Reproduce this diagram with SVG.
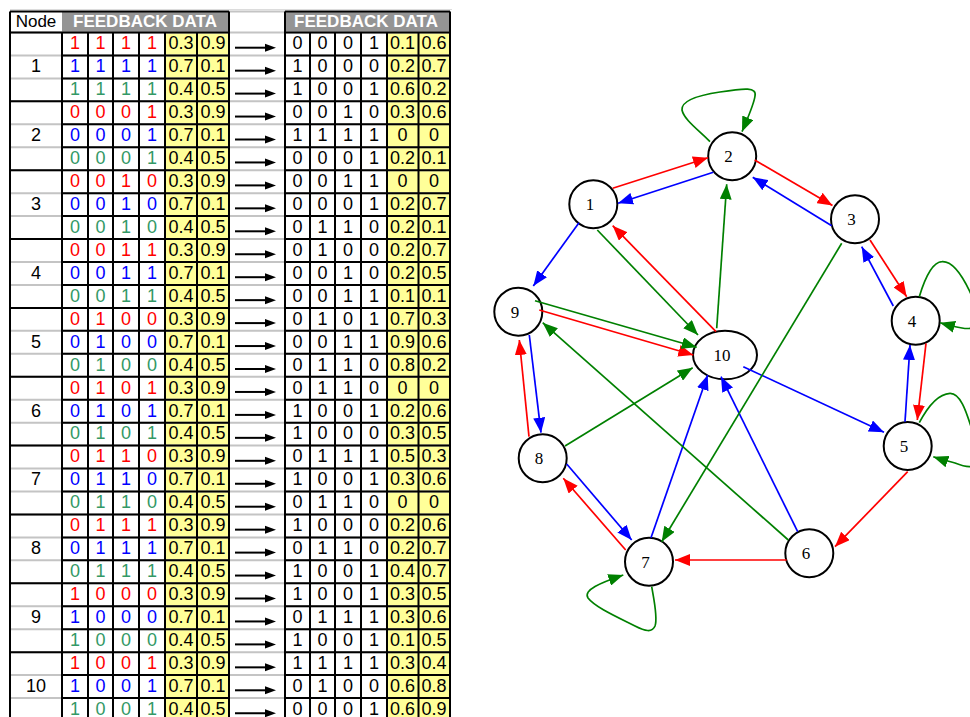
<svg xmlns="http://www.w3.org/2000/svg" xmlns:xlink="http://www.w3.org/1999/xlink" width="970" height="717" viewBox="0 0 970 717">
<style>
  text { font-family: "Liberation Sans", Arial, sans-serif; font-size: 18px; text-anchor: middle; fill: #000; }
  .r { fill: #ff0000; }
  .b { fill: #0000ff; }
  .g { fill: #339966; }
  .hd { font-size: 17px; font-weight: bold; fill: #ffffff; }
  .hn { font-size: 17px; }
  .grid-k { fill: none; stroke: #000; stroke-width: 2; }
  .grid-l { fill: none; stroke: #c4c4c4; stroke-width: 2; }
  .nd { fill: #ffffff; stroke: #000; stroke-width: 2; }
  .nl { font-family: "Liberation Serif", "Times New Roman", serif; font-size: 17px; }
  .e { fill: none; stroke-width: 1.7; }
  .er { stroke: #ff0000; marker-end: url(#ah-r); }
  .eb { stroke: #0000ff; marker-end: url(#ah-b); }
  .eg { stroke: #008000; marker-end: url(#ah-g); }
</style>
<defs>
  <marker id="ah-r" viewBox="0 0 15 12" refX="15" refY="6" markerWidth="15" markerHeight="12" markerUnits="userSpaceOnUse" orient="auto"><path d="M0,0 L15,6 L0,12 z" fill="#ff0000"/></marker>
  <marker id="ah-b" viewBox="0 0 15 12" refX="15" refY="6" markerWidth="15" markerHeight="12" markerUnits="userSpaceOnUse" orient="auto"><path d="M0,0 L15,6 L0,12 z" fill="#0000ff"/></marker>
  <marker id="ah-g" viewBox="0 0 15 12" refX="15" refY="6" markerWidth="15" markerHeight="12" markerUnits="userSpaceOnUse" orient="auto"><path d="M0,0 L15,6 L0,12 z" fill="#008000"/></marker>
  <!-- small arrow of the middle column -->
  <g id="ta"><path d="M235,0 H267" stroke="#000" stroke-width="2"/><path d="M265,-4 L276,0 L265,4 z" fill="#000"/></g>
  <!-- weights and arrows shared by every three-row block -->
  <g id="lv">
    <text x="181" y="16.8">0.3</text><text x="213" y="16.8">0.9</text>
    <text x="181" y="39.75">0.7</text><text x="213" y="39.75">0.1</text>
    <text x="181" y="62.7">0.4</text><text x="213" y="62.7">0.5</text>
    <use xlink:href="#ta" y="15.2"/><use xlink:href="#ta" y="38.15"/><use xlink:href="#ta" y="61.1"/>
  </g>
</defs>

<rect width="970" height="717" fill="#ffffff"/>

<!-- ===== table ===== -->
<g id="table">
  <rect x="165" y="32.5" width="64" height="685" fill="#ffff99"/>
  <rect x="387" y="32.5" width="63" height="685" fill="#ffff99"/>

  <g id="tbl-header">
    <line x1="10" y1="9.5" x2="452" y2="9.5" stroke="#dcdcdc" stroke-width="1"/>
    <rect x="62" y="11.5" width="167" height="21" fill="#949494"/>
    <rect x="285" y="11.5" width="165" height="21" fill="#949494"/>
    <text class="hn" x="36" y="27">Node</text>
    <text class="hd" x="145" y="27">FEEDBACK DATA</text>
    <text class="hd" x="366" y="27">FEEDBACK DATA</text>
  </g>

  <!-- light row rules (node and arrow columns) -->
  <path class="grid-l" d="M229,11.5 H285 M10,32.5 H450 M10,55.45 H450 M10,78.4 H450 M10,101.35 H450 M10,124.3 H450 M10,147.25 H450 M10,170.2 H450 M10,193.15 H450 M10,216.1 H450 M10,239.05 H450 M10,262 H450 M10,284.95 H450 M10,307.9 H450 M10,330.85 H450 M10,353.8 H450 M10,376.75 H450 M10,399.7 H450 M10,422.65 H450 M10,445.6 H450 M10,468.55 H450 M10,491.5 H450 M10,514.45 H450 M10,537.4 H450 M10,560.35 H450 M10,583.3 H450 M10,606.25 H450 M10,629.2 H450 M10,652.15 H450 M10,675.1 H450 M10,698.05 H450"/>
  <!-- block rules -->
  <path class="grid-k" d="M10,11.5 H229 M285,11.5 H450 M10,32.5 H229 M285,32.5 H450 M10,101.35 H229 M285,101.35 H450 M10,170.2 H229 M285,170.2 H450 M10,239.05 H229 M285,239.05 H450 M10,307.9 H229 M285,307.9 H450 M10,376.75 H229 M285,376.75 H450 M10,445.6 H229 M285,445.6 H450 M10,514.45 H229 M285,514.45 H450 M10,583.3 H229 M285,583.3 H450 M10,652.15 H229 M285,652.15 H450"/>
  <!-- cell rules -->
  <path class="grid-k" d="M62,55.45 H229 M285,55.45 H450 M62,78.4 H229 M285,78.4 H450 M62,124.3 H229 M285,124.3 H450 M62,147.25 H229 M285,147.25 H450 M62,193.15 H229 M285,193.15 H450 M62,216.1 H229 M285,216.1 H450 M62,262 H229 M285,262 H450 M62,284.95 H229 M285,284.95 H450 M62,330.85 H229 M285,330.85 H450 M62,353.8 H229 M285,353.8 H450 M62,399.7 H229 M285,399.7 H450 M62,422.65 H229 M285,422.65 H450 M62,468.55 H229 M285,468.55 H450 M62,491.5 H229 M285,491.5 H450 M62,537.4 H229 M285,537.4 H450 M62,560.35 H229 M285,560.35 H450 M62,606.25 H229 M285,606.25 H450 M62,629.2 H229 M285,629.2 H450 M62,675.1 H229 M285,675.1 H450 M62,698.05 H229 M285,698.05 H450"/>
  <!-- column rules -->
  <path class="grid-k" d="M10,11.5 V717 M229,11.5 V717 M285,11.5 V717 M450,11.5 V717 M88,32.5 V717 M113,32.5 V717 M139,32.5 V717 M165,32.5 V717 M197,32.5 V717 M310,32.5 V717 M335,32.5 V717 M361,32.5 V717 M387,32.5 V717 M418.5,32.5 V717"/>
  <path class="grid-k" d="M62,32.5 V717" stroke-width="2.6"/>

  <g id="tbl-node-1" transform="translate(0,32.5)">
    <text x="36" y="39.75">1</text>
    <text class="r" x="75 100.5 126 152" y="16.8">1111</text>
    <text class="b" x="75 100.5 126 152" y="39.75">1111</text>
    <text class="g" x="75 100.5 126 152" y="62.7">1111</text>
    <use xlink:href="#lv"/>
    <text x="297.5 322.5 348 374" y="16.8">0001</text><text x="402.5" y="16.8">0.1</text><text x="434" y="16.8">0.6</text>
    <text x="297.5 322.5 348 374" y="39.75">1000</text><text x="402.5" y="39.75">0.2</text><text x="434" y="39.75">0.7</text>
    <text x="297.5 322.5 348 374" y="62.7">1001</text><text x="402.5" y="62.7">0.6</text><text x="434" y="62.7">0.2</text>
  </g>
  <g id="tbl-node-2" transform="translate(0,101.35)">
    <text x="36" y="39.75">2</text>
    <text class="r" x="75 100.5 126 152" y="16.8">0001</text>
    <text class="b" x="75 100.5 126 152" y="39.75">0001</text>
    <text class="g" x="75 100.5 126 152" y="62.7">0001</text>
    <use xlink:href="#lv"/>
    <text x="297.5 322.5 348 374" y="16.8">0010</text><text x="402.5" y="16.8">0.3</text><text x="434" y="16.8">0.6</text>
    <text x="297.5 322.5 348 374" y="39.75">1111</text><text x="402.5" y="39.75">0</text><text x="434" y="39.75">0</text>
    <text x="297.5 322.5 348 374" y="62.7">0001</text><text x="402.5" y="62.7">0.2</text><text x="434" y="62.7">0.1</text>
  </g>
  <g id="tbl-node-3" transform="translate(0,170.2)">
    <text x="36" y="39.75">3</text>
    <text class="r" x="75 100.5 126 152" y="16.8">0010</text>
    <text class="b" x="75 100.5 126 152" y="39.75">0010</text>
    <text class="g" x="75 100.5 126 152" y="62.7">0010</text>
    <use xlink:href="#lv"/>
    <text x="297.5 322.5 348 374" y="16.8">0011</text><text x="402.5" y="16.8">0</text><text x="434" y="16.8">0</text>
    <text x="297.5 322.5 348 374" y="39.75">0001</text><text x="402.5" y="39.75">0.2</text><text x="434" y="39.75">0.7</text>
    <text x="297.5 322.5 348 374" y="62.7">0110</text><text x="402.5" y="62.7">0.2</text><text x="434" y="62.7">0.1</text>
  </g>
  <g id="tbl-node-4" transform="translate(0,239.05)">
    <text x="36" y="39.75">4</text>
    <text class="r" x="75 100.5 126 152" y="16.8">0011</text>
    <text class="b" x="75 100.5 126 152" y="39.75">0011</text>
    <text class="g" x="75 100.5 126 152" y="62.7">0011</text>
    <use xlink:href="#lv"/>
    <text x="297.5 322.5 348 374" y="16.8">0100</text><text x="402.5" y="16.8">0.2</text><text x="434" y="16.8">0.7</text>
    <text x="297.5 322.5 348 374" y="39.75">0010</text><text x="402.5" y="39.75">0.2</text><text x="434" y="39.75">0.5</text>
    <text x="297.5 322.5 348 374" y="62.7">0011</text><text x="402.5" y="62.7">0.1</text><text x="434" y="62.7">0.1</text>
  </g>
  <g id="tbl-node-5" transform="translate(0,307.9)">
    <text x="36" y="39.75">5</text>
    <text class="r" x="75 100.5 126 152" y="16.8">0100</text>
    <text class="b" x="75 100.5 126 152" y="39.75">0100</text>
    <text class="g" x="75 100.5 126 152" y="62.7">0100</text>
    <use xlink:href="#lv"/>
    <text x="297.5 322.5 348 374" y="16.8">0101</text><text x="402.5" y="16.8">0.7</text><text x="434" y="16.8">0.3</text>
    <text x="297.5 322.5 348 374" y="39.75">0011</text><text x="402.5" y="39.75">0.9</text><text x="434" y="39.75">0.6</text>
    <text x="297.5 322.5 348 374" y="62.7">0110</text><text x="402.5" y="62.7">0.8</text><text x="434" y="62.7">0.2</text>
  </g>
  <g id="tbl-node-6" transform="translate(0,376.75)">
    <text x="36" y="39.75">6</text>
    <text class="r" x="75 100.5 126 152" y="16.8">0101</text>
    <text class="b" x="75 100.5 126 152" y="39.75">0101</text>
    <text class="g" x="75 100.5 126 152" y="62.7">0101</text>
    <use xlink:href="#lv"/>
    <text x="297.5 322.5 348 374" y="16.8">0110</text><text x="402.5" y="16.8">0</text><text x="434" y="16.8">0</text>
    <text x="297.5 322.5 348 374" y="39.75">1001</text><text x="402.5" y="39.75">0.2</text><text x="434" y="39.75">0.6</text>
    <text x="297.5 322.5 348 374" y="62.7">1000</text><text x="402.5" y="62.7">0.3</text><text x="434" y="62.7">0.5</text>
  </g>
  <g id="tbl-node-7" transform="translate(0,445.6)">
    <text x="36" y="39.75">7</text>
    <text class="r" x="75 100.5 126 152" y="16.8">0110</text>
    <text class="b" x="75 100.5 126 152" y="39.75">0110</text>
    <text class="g" x="75 100.5 126 152" y="62.7">0110</text>
    <use xlink:href="#lv"/>
    <text x="297.5 322.5 348 374" y="16.8">0111</text><text x="402.5" y="16.8">0.5</text><text x="434" y="16.8">0.3</text>
    <text x="297.5 322.5 348 374" y="39.75">1001</text><text x="402.5" y="39.75">0.3</text><text x="434" y="39.75">0.6</text>
    <text x="297.5 322.5 348 374" y="62.7">0110</text><text x="402.5" y="62.7">0</text><text x="434" y="62.7">0</text>
  </g>
  <g id="tbl-node-8" transform="translate(0,514.45)">
    <text x="36" y="39.75">8</text>
    <text class="r" x="75 100.5 126 152" y="16.8">0111</text>
    <text class="b" x="75 100.5 126 152" y="39.75">0111</text>
    <text class="g" x="75 100.5 126 152" y="62.7">0111</text>
    <use xlink:href="#lv"/>
    <text x="297.5 322.5 348 374" y="16.8">1000</text><text x="402.5" y="16.8">0.2</text><text x="434" y="16.8">0.6</text>
    <text x="297.5 322.5 348 374" y="39.75">0110</text><text x="402.5" y="39.75">0.2</text><text x="434" y="39.75">0.7</text>
    <text x="297.5 322.5 348 374" y="62.7">1001</text><text x="402.5" y="62.7">0.4</text><text x="434" y="62.7">0.7</text>
  </g>
  <g id="tbl-node-9" transform="translate(0,583.3)">
    <text x="36" y="39.75">9</text>
    <text class="r" x="75 100.5 126 152" y="16.8">1000</text>
    <text class="b" x="75 100.5 126 152" y="39.75">1000</text>
    <text class="g" x="75 100.5 126 152" y="62.7">1000</text>
    <use xlink:href="#lv"/>
    <text x="297.5 322.5 348 374" y="16.8">1001</text><text x="402.5" y="16.8">0.3</text><text x="434" y="16.8">0.5</text>
    <text x="297.5 322.5 348 374" y="39.75">0111</text><text x="402.5" y="39.75">0.3</text><text x="434" y="39.75">0.6</text>
    <text x="297.5 322.5 348 374" y="62.7">1001</text><text x="402.5" y="62.7">0.1</text><text x="434" y="62.7">0.5</text>
  </g>
  <g id="tbl-node-10" transform="translate(0,652.15)">
    <text x="36" y="39.75">10</text>
    <text class="r" x="75 100.5 126 152" y="16.8">1001</text>
    <text class="b" x="75 100.5 126 152" y="39.75">1001</text>
    <text class="g" x="75 100.5 126 152" y="62.7">1001</text>
    <use xlink:href="#lv"/>
    <text x="297.5 322.5 348 374" y="16.8">1111</text><text x="402.5" y="16.8">0.3</text><text x="434" y="16.8">0.4</text>
    <text x="297.5 322.5 348 374" y="39.75">0100</text><text x="402.5" y="39.75">0.6</text><text x="434" y="39.75">0.8</text>
    <text x="297.5 322.5 348 374" y="62.7">0001</text><text x="402.5" y="62.7">0.6</text><text x="434" y="62.7">0.9</text>
  </g>
</g>

<!-- ===== graph nodes ===== -->
<g id="node-1"><circle class="nd" cx="593.3" cy="204.3" r="24"/><text class="nl" x="590" y="210">1</text></g>
<g id="node-2"><circle class="nd" cx="732.2" cy="156.2" r="24"/><text class="nl" x="728.5" y="162">2</text></g>
<g id="node-3"><circle class="nd" cx="855" cy="219.3" r="24"/><text class="nl" x="851.5" y="225">3</text></g>
<g id="node-4"><circle class="nd" cx="915.7" cy="320.7" r="24"/><text class="nl" x="912" y="326.5">4</text></g>
<g id="node-5"><circle class="nd" cx="907.7" cy="446" r="24"/><text class="nl" x="904" y="452">5</text></g>
<g id="node-6"><circle class="nd" cx="809.3" cy="553.3" r="24"/><text class="nl" x="806" y="559">6</text></g>
<g id="node-7"><circle class="nd" cx="649" cy="561.7" r="24"/><text class="nl" x="645.5" y="567.5">7</text></g>
<g id="node-8"><circle class="nd" cx="542.7" cy="458.3" r="24"/><text class="nl" x="539" y="464">8</text></g>
<g id="node-9"><circle class="nd" cx="518.3" cy="311.7" r="24"/><text class="nl" x="515" y="317.5">9</text></g>
<g id="node-10"><ellipse class="nd" cx="725" cy="355" rx="32" ry="24.3"/><text class="nl" x="722" y="361">10</text></g>

<!-- ===== graph edges ===== -->
<g id="edges">
  <!-- red -->
  <path class="e er" d="M612.7,188.3 L708,157.7"/>
  <path class="e er" d="M754.7,160 L832.5,205.5"/>
  <path class="e er" d="M870,240 L906.7,296.7"/>
  <path class="e er" d="M926,343.3 L917.3,420"/>
  <path class="e er" d="M907.7,471.7 L835,546.7"/>
  <path class="e er" d="M786.7,560 L675,560"/>
  <path class="e er" d="M625.7,550 L563.3,478.3"/>
  <path class="e er" d="M529,436.7 L519.3,340"/>
  <path class="e er" d="M539.3,310 L693.3,355"/>
  <path class="e er" d="M716,331.7 L612.7,225.7"/>
  <!-- blue -->
  <path class="e eb" d="M713.3,172.3 L618,203.3"/>
  <path class="e eb" d="M831.7,225.7 L752.7,177.3"/>
  <path class="e eb" d="M893.3,306 L861.7,246.7"/>
  <path class="e eb" d="M905,421.7 L910,345"/>
  <path class="e eb" d="M743.3,366.7 L884,432.3"/>
  <path class="e eb" d="M797.7,531.7 L721,376.7"/>
  <path class="e eb" d="M651,537.7 L707.7,375"/>
  <path class="e eb" d="M566.7,464 L631.7,540"/>
  <path class="e eb" d="M529.3,335 L541,432.7"/>
  <path class="e eb" d="M579,222.7 L533.3,286"/>
  <!-- green -->
  <path class="e eg" d="M597.3,230 L698,335"/>
  <path class="e eg" d="M716.7,328.3 L726.7,184.3"/>
  <path class="e eg" d="M841.7,243.3 L661.7,541.7"/>
  <path class="e eg" d="M535,300.7 L696.7,347.3"/>
  <path class="e eg" d="M788.3,540 L542.7,322.7"/>
  <path class="e eg" d="M565,446 L692.7,367.7"/>
  <path class="e eg" d="M710,141.7 C700,131 684,120 682,110 C681,100 700,95 720,92 C745,88 757,87 755,96 C754,104 749,115 742,131.7"/>
  <path class="e eg" d="M919.3,296.7 C925,278 933,262 942,261.7 C952,261 962,275 970,292 C980,312 985,332 962,328 C955,327 948,325 940,322.7"/>
  <path class="e eg" d="M919.3,422.7 C927,408 938,394 950,393.3 C960,393 966,410 972,430 C980,455 985,475 955,463 C948,461 940,459 933.3,456.7"/>
  <path class="e eg" d="M651.7,586.7 C654,600 658,618 655,626 C652,633 645,631 635,626 C615,616 595,607 588,598 C583,590 600,583 623.3,575"/>
</g>
</svg>
